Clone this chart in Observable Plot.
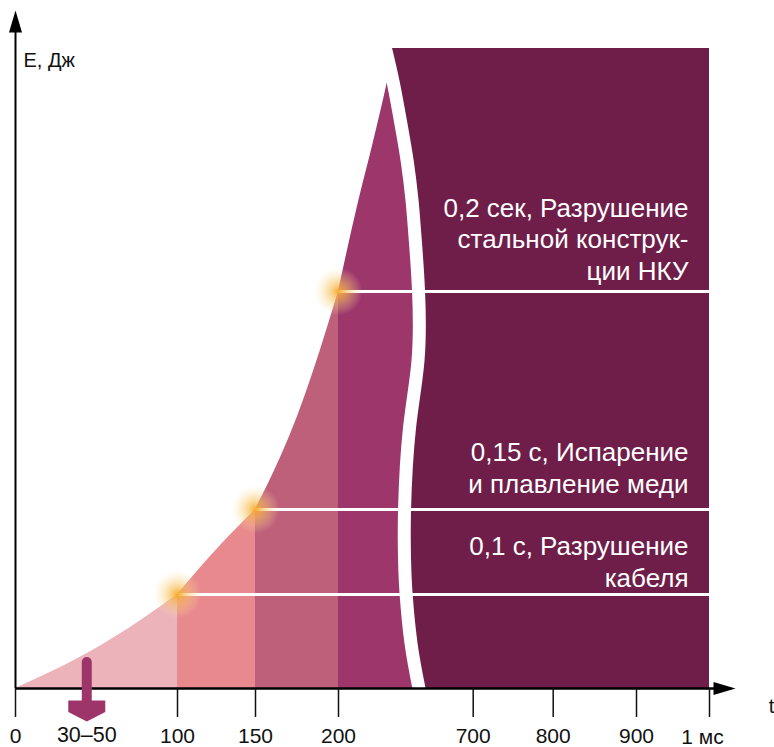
<!DOCTYPE html>
<html><head><meta charset="utf-8">
<script src="https://cdn.jsdelivr.net/npm/d3@7"></script>
<script src="https://cdn.jsdelivr.net/npm/@observablehq/plot@0.6"></script>
<style>body{margin:0;background:#fff;} #chart svg{display:block;}</style>
</head><body><div id="chart"></div>
<script>
// ---- data ----
const curveT = [0, 17.5, 44.3, 79.2, 100, 127.6, 150, 165.1, 175.1, 185.1, 200, 211.3, 221.3, 229.3, 237.3, 250];
const curveE = [0, 13, 35, 70, 94, 143, 179, 231, 271, 318, 397, 481, 548, 605, 670, 760];
const bandFrom = [0, 100, 150, 200];
const bandTo = [100, 150, 200, 250];
const bandColors = ["#ECB4BA", "#E8898E", "#BF607B", "#9D366B"];
const darkColor = "#6E1E49";
const gapT = [228.3, 233.1, 238.0, 241.6, 244.3, 245.8, 248.2, 247.9, 242.8, 239.8, 239.8, 240.7, 243.7, 248.5];
const gapE = [640, 605, 561, 525, 488, 458, 398, 328, 261, 180, 128, 95, 45, 0];
const levelT = [100, 150, 200];
const levelE = [94, 179, 397];
const levelLabels = ["0,1 с, Разрушение\nкабеля", "0,15 с, Испарение\nи плавление меди", "0,2 сек, Разрушение\nстальной конструк-\nции НКУ"];
const tickValues = [0, 100, 150, 200, 700, 800, 900, 1000];
const tickLabels = ["0", "100", "150", "200", "700", "800", "900", ""];
const endT = 1000;
const endLabel = "1 мс";
const rangeT = 44;
const rangeLabel = "30–50";
const yLabel = "E, Дж";
const xLabel = "t";

const curve = curveT.map((t, i) => ({t, E: curveE[i]}));
const gap = gapT.map((t, i) => ({t, E: gapE[i]}));
const levels = levelT.map((t, i) => ({t, E: levelE[i], label: levelLabels[i]}));
const tickLabelMap = new Map(tickValues.map((v, i) => [v, tickLabels[i]]));

const arrowUp = {draw(ctx) { ctx.moveTo(0, 0); ctx.lineTo(6.5, 22); ctx.lineTo(-6.5, 22); ctx.closePath(); }};
const arrowDown = {draw(ctx) { ctx.moveTo(-18.5, 0); ctx.lineTo(18.5, 0); ctx.lineTo(18.5, 11.5); ctx.lineTo(0, 21); ctx.lineTo(-18.5, 11.5); ctx.closePath(); }};

const font = "'Liberation Sans', Arial, Helvetica, sans-serif";
const labelDy = [-8, -17, -12];

const marks = [];
bandFrom.forEach((from, i) => {
  marks.push(Plot.areaY(curve.filter(d => d.t >= from && d.t <= bandTo[i]),
    {x: "t", y: "E", fill: bandColors[i], curve: "monotone-x", clip: true}));
});
marks.push(
  Plot.areaX(gap, {y: "E", x1: "t", x2: endT, fill: darkColor, curve: "natural"}),
  Plot.line(gap, {x: "t", y: "E", stroke: "white", strokeWidth: 13, curve: "natural"}),
  Plot.ruleY(levels, {y: "E", x1: "t", x2: endT, stroke: "white", strokeWidth: 3}),
  Plot.dot(levels, {x: "t", y: "E", r: 24, fill: "url(#glow)", stroke: "none"}),
  ...levels.map((d, i) => Plot.text([d], {x: endT, y: "E", text: "label", dx: -21, dy: labelDy[i], fill: "white",
    fontSize: 26, textAnchor: "end", lineAnchor: "bottom", lineHeight: 1.2})),
  // axes
  Plot.ruleY([0], {x1: 0, x2: 1030, stroke: "#000", strokeWidth: 2.5}),
  Plot.ruleX([0], {y1: 0, y2: 660, stroke: "#000", strokeWidth: 2}),
  Plot.dot([{t: 0, E: 678}], {x: "t", y: "E", symbol: arrowUp, fill: "#000", stroke: "none"}),
  Plot.dot([{t: 1035.6, E: 0}], {x: "t", y: "E", symbol: arrowUp, rotate: 90, fill: "#000", stroke: "none"}),
  Plot.axisX({ticks: tickValues, tickSize: 29, tickPadding: 11, tickFormat: d => tickLabelMap.get(d),
    fontSize: 21, strokeWidth: 1.5, color: "#111", label: null}),
  Plot.text([endLabel], {x: endT, y: -55, text: d => d, dx: -7, fontSize: 21, textAnchor: "middle", lineAnchor: "bottom", fill: "#111"}),
  Plot.text([xLabel], {x: endT, y: -24, text: d => d, dx: 62, fontSize: 20, textAnchor: "middle", lineAnchor: "bottom", fill: "#111"}),
  Plot.text([yLabel], {x: 0, y: 622, text: d => d, dx: 8, fontSize: 20, textAnchor: "start", lineAnchor: "bottom", fill: "#111"}),
  // 30–50 arrow
  Plot.ruleX([rangeT], {y1: 26, y2: -14, stroke: "#9D356B", strokeWidth: 10, strokeLinecap: "round"}),
  Plot.dot([{t: rangeT, E: -12}], {x: "t", y: "E", symbol: arrowDown, fill: "#9D356B", stroke: "none"}),
  Plot.text([rangeLabel], {x: rangeT, y: -53, text: d => d, fontSize: 21.5, textAnchor: "middle", lineAnchor: "bottom", fill: "#111"})
);

const svg = Plot.plot({
  width: 774, height: 747,
  marginLeft: 15, marginRight: 65, marginTop: 48, marginBottom: 59,
  style: {fontFamily: font, background: "white", overflow: "visible"},
  x: {type: "linear", domain: [0, 100, 150, 200, 250, 650, 700, 800, 900, 1000],
      range: [15, 177, 255, 338, 421, 432.5, 472.7, 552.7, 636, 709]},
  y: {domain: [0, 640], axis: null},
  marks
});

const defs = d3.select(svg).insert("defs", ":first-child");
const g = defs.append("radialGradient").attr("id", "glow");
g.append("stop").attr("offset", "0%").attr("stop-color", "#F5A82A").attr("stop-opacity", 0.95);
g.append("stop").attr("offset", "30%").attr("stop-color", "#F7BC50").attr("stop-opacity", 0.65);
g.append("stop").attr("offset", "100%").attr("stop-color", "#FCE3A8").attr("stop-opacity", 0);

document.getElementById("chart").appendChild(svg);
</script>
</body></html>
